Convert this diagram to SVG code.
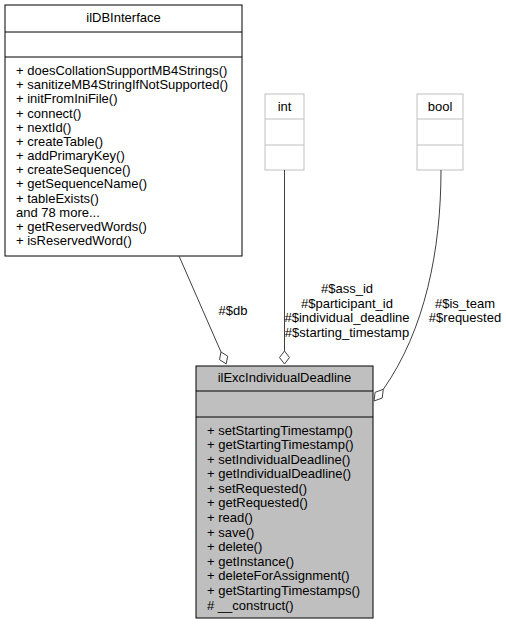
<svg xmlns="http://www.w3.org/2000/svg" width="506" height="624" viewBox="0 0 506 624">
<style>
text{font-family:"Liberation Sans",Arial,Helvetica,sans-serif;font-size:13px;fill:#000}
.c{text-anchor:middle}
.box{fill:#fff;stroke:#000;stroke-width:1}
.main{fill:#bfbfbf;stroke:#000;stroke-width:1}
.ext{fill:#fff;stroke:#bfbfbf;stroke-width:1}
.edge{fill:none;stroke:#404040;stroke-width:1}
.dia{fill:#fff;stroke:#404040;stroke-width:1}
</style>
<rect width="506" height="624" fill="#fff"/>
<g id="ilDBInterface">
<rect class="box" x="5" y="5" width="237" height="251"/>
<line x1="5" y1="32" x2="242" y2="32" stroke="#000"/>
<line x1="5" y1="57" x2="242" y2="57" stroke="#000"/>
<text class="c" x="123.5" y="22">ilDBInterface</text>
<text x="16" y="75">+ doesCollationSupportMB4Strings()</text>
<text x="16" y="89.2">+ sanitizeMB4StringIfNotSupported()</text>
<text x="16" y="103.3">+ initFromIniFile()</text>
<text x="16" y="117.5">+ connect()</text>
<text x="16" y="131.7">+ nextId()</text>
<text x="16" y="145.9">+ createTable()</text>
<text x="16" y="160">+ addPrimaryKey()</text>
<text x="16" y="174.2">+ createSequence()</text>
<text x="16" y="188.4">+ getSequenceName()</text>
<text x="16" y="202.5">+ tableExists()</text>
<text x="16" y="216.7">and 78 more...</text>
<text x="16" y="230.9">+ getReservedWords()</text>
<text x="16" y="245">+ isReservedWord()</text>
</g>
<g id="int">
<rect class="ext" x="265" y="94" width="39" height="76"/>
<line x1="265" y1="119" x2="304" y2="119" stroke="#bfbfbf"/>
<line x1="265" y1="145" x2="304" y2="145" stroke="#bfbfbf"/>
<text class="c" x="284.5" y="111">int</text>
</g>
<g id="bool">
<rect class="ext" x="417" y="94" width="46" height="76"/>
<line x1="417" y1="119" x2="463" y2="119" stroke="#bfbfbf"/>
<line x1="417" y1="145" x2="463" y2="145" stroke="#bfbfbf"/>
<text class="c" x="440" y="111">bool</text>
</g>
<g id="ilExcIndividualDeadline">
<rect class="main" x="196" y="366" width="177" height="252"/>
<line x1="196" y1="391" x2="373" y2="391" stroke="#000"/>
<line x1="196" y1="417" x2="373" y2="417" stroke="#000"/>
<text class="c" x="284.5" y="382">ilExcIndividualDeadline</text>
<text x="207" y="434.5">+ setStartingTimestamp()</text>
<text x="207" y="449.1">+ getStartingTimestamp()</text>
<text x="207" y="463.7">+ setIndividualDeadline()</text>
<text x="207" y="478.2">+ getIndividualDeadline()</text>
<text x="207" y="492.8">+ setRequested()</text>
<text x="207" y="507.4">+ getRequested()</text>
<text x="207" y="522">+ read()</text>
<text x="207" y="536.6">+ save()</text>
<text x="207" y="551.2">+ delete()</text>
<text x="207" y="565.7">+ getInstance()</text>
<text x="207" y="580.3">+ deleteForAssignment()</text>
<text x="207" y="594.9">+ getStartingTimestamps()</text>
<text x="207" y="609.5"># __construct()</text>
</g>
<g id="connectors">
<path class="edge" d="M179,256 L221,352"/>
<polygon class="dia" points="221,352 227.7,356.1 226.2,363.9 219.5,359.7"/>
<text class="c" x="233" y="315">#$db</text>
<path class="edge" d="M284.5,170 L284.5,351"/>
<polygon class="dia" points="284.5,351 289.5,357.5 284.5,364 279.5,357.5"/>
<text class="c" x="347" y="293">#$ass_id</text>
<text class="c" x="347" y="307.5">#$participant_id</text>
<text class="c" x="347" y="322">#$individual_deadline</text>
<text class="c" x="347" y="336.5">#$starting_timestamp</text>
<path class="edge" d="M441,170 C441,250 425,330 383.3,389.3"/>
<polygon class="dia" points="383.3,389.3 382.2,398 374,401 375.1,392.3"/>
<text class="c" x="465" y="307.5">#$is_team</text>
<text class="c" x="465" y="322">#$requested</text>
</g>
</svg>
